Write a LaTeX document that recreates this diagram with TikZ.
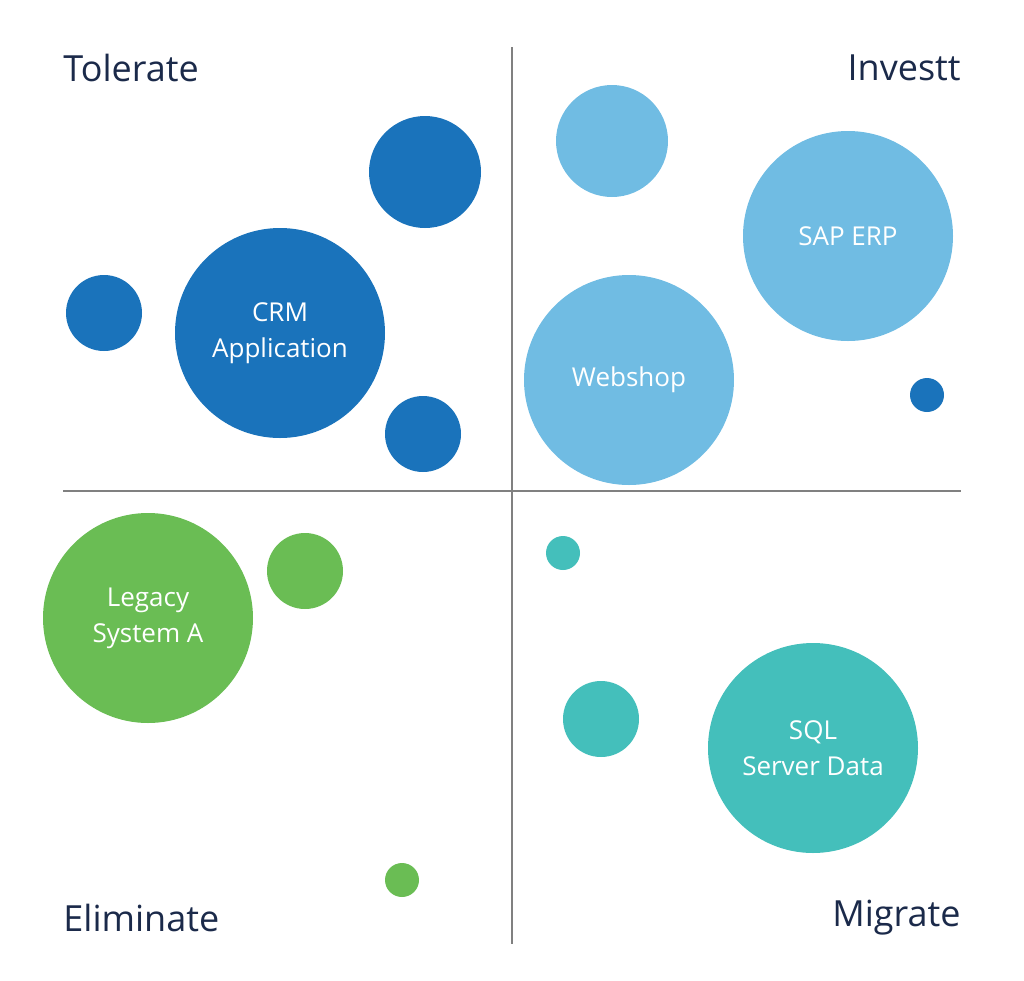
\documentclass[tikz,border=0pt]{standalone}
\usepackage{fontspec}
\setmainfont{Open Sans}
\usetikzlibrary{positioning}
\definecolor{darkblue}{HTML}{1A73BB}
\definecolor{lightblue}{HTML}{70BCE3}
\definecolor{leafgreen}{HTML}{6ABD54}
\definecolor{teal}{HTML}{44BFBB}
\definecolor{navy}{HTML}{1B2A4A}
\tikzset{
  bubble/.style={circle, inner sep=0pt, text=white, align=center, font=\fontsize{13}{18}\selectfont},
  quadrant/.style={text=navy, inner sep=0pt, font=\fontsize{18}{20}\selectfont},
}
\begin{document}
\begin{tikzpicture}[x=0.5pt,y=-0.5pt]
                  \useasboundingbox (0,0) rectangle (1024,981);
                  \draw[gray, line width=1pt] (512,47) -- (512,944);
                  \draw[gray, line width=1pt] (63,491) -- (961,491);
                  % bubbles: x, y, radius, colour
                  \foreach \x/\y/\r/\c/\n in {425/172/56/darkblue/t1, 104/313/38/darkblue/t2, 423/434/38/darkblue/t3, 927/395/17/darkblue/i1,
                    612/141/56/lightblue/i2, 305/571/38/leafgreen/e1, 402/880/17/leafgreen/e2, 563/553/17/teal/m1, 601/719/38/teal/m2}
                    \node[bubble, fill=\c, minimum size=\r pt] (\n) at (\x,\y) {};
                  \node[bubble, fill=darkblue, minimum size=105pt] (crm) at (280,333) {CRM\\Application};
                  \node[bubble, fill=lightblue, minimum size=105pt] (sap) at (848,236) {SAP ERP};
                  \node[bubble, fill=lightblue, minimum size=105pt] (webshop) at (629,380) {Webshop};
                  \node[bubble, fill=leafgreen, minimum size=105pt] (legacy) at (148,618) {Legacy\\System A};
                  \node[bubble, fill=teal, minimum size=105pt] (sql) at (813,748) {SQL\\Server Data};
                  \node[quadrant, anchor=west] (tolerate) at (63,68) {Tolerate};
                  \node[quadrant, anchor=east] (invest) at (961,68) {Investt};
                  \node[quadrant, anchor=west] (eliminate) at (63,918) {Eliminate};
                  \node[quadrant, anchor=east] (migrate) at (961,918) {Migrate};
              \end{tikzpicture}
\end{document}
